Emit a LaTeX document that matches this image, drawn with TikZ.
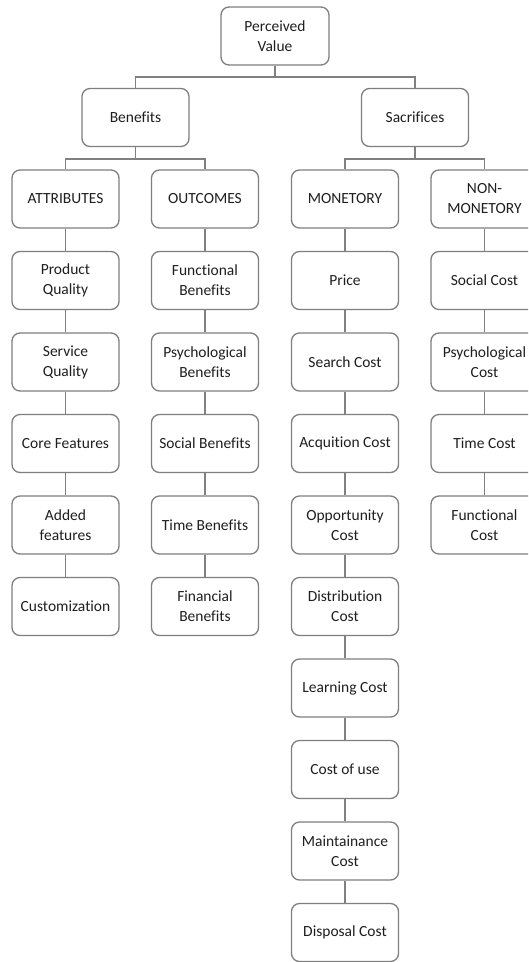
\documentclass[tikz,border=0pt]{standalone}
\usepackage{fontspec}
\setmainfont[Ligatures=NoCommon]{Carlito}
\definecolor{boxgray}{HTML}{7F7F7F}
\definecolor{linegray}{HTML}{808080}
\definecolor{textgray}{HTML}{1F1F1F}
\begin{document}
\begin{tikzpicture}[x=1pt,y=-1pt,
  box/.style={draw=boxgray, line width=1.3pt, rounded corners=8pt, fill=white,
    minimum width=107pt, minimum height=58pt, inner sep=2pt, align=center,
    text=textgray, font=\fontsize{15.5}{20}\selectfont},
  link/.style={draw=linegray, line width=1.5pt}]
  % page area
  \fill[white] (0,0) rectangle (528,962);
  \clip (0,0) rectangle (528,962);
  \useasboundingbox (0,0) rectangle (528,962);

  % top levels
  \node[box, minimum width=108pt] (pv) at (275,36) {Perceived\\Value};
  \node[box] (ben) at (135.5,117.5) {Benefits};
  \node[box] (sac) at (415,117.5) {Sacrifices};

  % columns of factors
  \foreach [count=\i from 0] \t in {ATTRIBUTES, {Product\\Quality}, {Service\\Quality},
      Core Features, {Added\\features}, Customization} {
    \node[box] (A\i) at (65.5, 199+81.5*\i) {\t};
    \ifnum\i>0 \pgfmathtruncatemacro\j{\i-1}\draw[link] (A\j) -- (A\i);\fi
  }
  \foreach [count=\i from 0] \t in {OUTCOMES, {Functional\\Benefits}, {Psychological\\Benefits},
      Social Benefits, Time Benefits, {Financial\\Benefits}} {
    \node[box] (B\i) at (205, 199+81.5*\i) {\t};
    \ifnum\i>0 \pgfmathtruncatemacro\j{\i-1}\draw[link] (B\j) -- (B\i);\fi
  }
  \foreach [count=\i from 0] \t in {MONETORY, Price, Search Cost, Acquition Cost,
      {Opportunity\\Cost}, {Distribution\\Cost}, Learning Cost, Cost of use,
      {Maintainance\\Cost}, Disposal Cost} {
    \node[box] (C\i) at (345, 199+81.5*\i) {\t};
    \ifnum\i>0 \pgfmathtruncatemacro\j{\i-1}\draw[link] (C\j) -- (C\i);\fi
  }
  \foreach [count=\i from 0] \t in {{NON-\\MONETORY}, Social Cost, {Psychological\\Cost},
      Time Cost, {Functional\\Cost}} {
    \node[box] (D\i) at (484.5, 199+81.5*\i) {\t};
    \ifnum\i>0 \pgfmathtruncatemacro\j{\i-1}\draw[link] (D\j) -- (D\i);\fi
  }

  % branching buses
  \coordinate (bus0) at (275,77);
  \coordinate (bus1) at (135.5,159);
  \coordinate (bus2) at (415,159);
  \draw[link] (pv.south) -- (bus0);
  \draw[link] (ben.north) |- (bus0) -| (sac.north);
  \draw[link] (ben.south) -- (bus1);
  \draw[link] (A0.north) |- (bus1) -| (B0.north);
  \draw[link] (sac.south) -- (bus2);
  \draw[link] (C0.north) |- (bus2) -| (D0.north);
\end{tikzpicture}
\end{document}
